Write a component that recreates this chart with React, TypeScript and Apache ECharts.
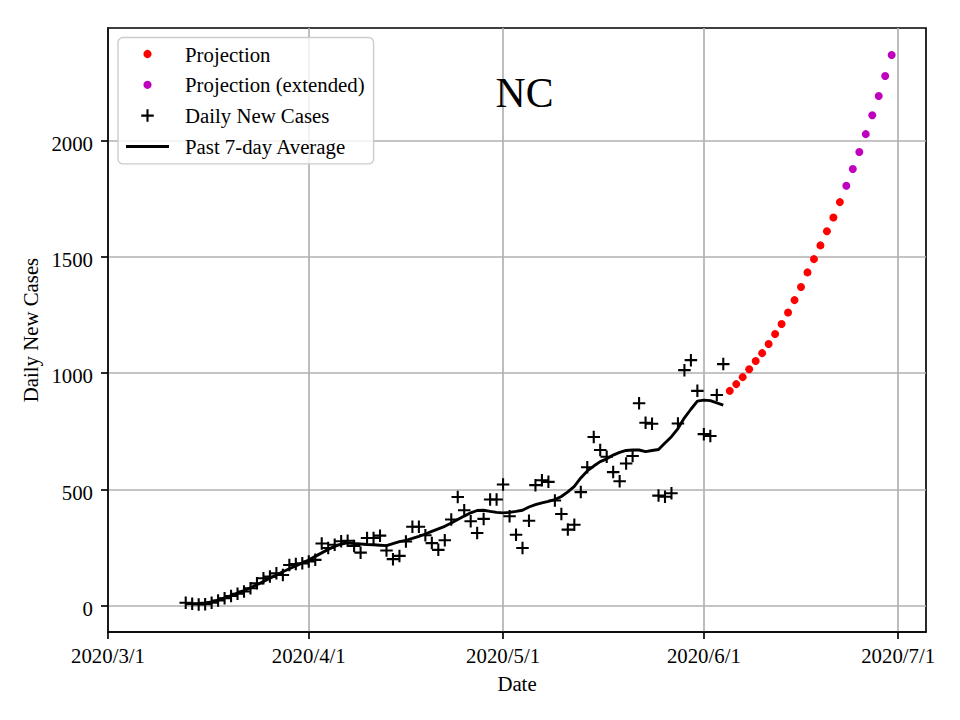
import React, { useEffect, useRef } from "react";
import * as echarts from "echarts";

// ---- axis ticks ----
const axisOrigin = "2020-03-01";
const xTickDates = ["2020-03-01", "2020-04-01", "2020-05-01", "2020-06-01", "2020-07-01"];
const xTickLabels = ["2020/3/1", "2020/4/1", "2020/5/1", "2020/6/1", "2020/7/1"];
const yTicks = [0, 500, 1000, 1500, 2000];

// ---- observed daily new cases (from 2020-03-13) ----
const casesStart = "2020-03-13";
const dailyCases = [
  14, 9, 6, 7, 14, 23, 33, 43, 52, 62,
  76, 97, 119, 126, 140, 133, 176, 180, 183, 191,
  198, 268, 249, 263, 278, 280, 258, 229, 292, 292,
  302, 238, 201, 215, 277, 340, 340, 304, 270, 241,
  282, 371, 468, 411, 364, 313, 374, 457, 457, 522,
  385, 306, 249, 366, 519, 540, 533, 453, 395, 328,
  349, 489, 596, 726, 670, 641, 575, 536, 612, 644,
  871, 787, 783, 474, 469, 484, 784, 1013, 1056, 924,
  738, 730, 906, 1039,
];

// ---- past 7-day average (from 2020-03-13) ----
const avgStart = "2020-03-13";
const avg7 = [
  9, 10, 11, 13, 17, 25, 35, 44, 55, 66,
  78, 91, 105, 119, 133, 147, 160, 172, 185, 197,
  213, 228, 243, 256, 266, 271, 268, 266, 264, 263,
  261, 259, 268, 276, 282, 290, 299, 309, 320, 331,
  342, 356, 371, 386, 400, 410, 411, 406, 402, 400,
  402, 406, 411, 425, 435, 443, 449, 457, 470, 490,
  514, 550, 580, 601, 620, 632, 648, 660, 668, 670,
  670, 663, 668, 672, 700, 727, 762, 808, 845, 880,
  884, 882, 872, 863,
];

// ---- projections ----
const projStart = "2020-06-05";
const projection = [
  924, 953, 983, 1017, 1052, 1086, 1125, 1168, 1211, 1261,
  1314, 1370, 1433, 1490, 1549, 1610, 1669, 1735,
];
const extStart = "2020-06-23";
const projectionExt = [1805, 1877, 1950, 2027, 2108, 2191, 2277, 2367];

const FONT = "Liberation Serif";

function dayIndex(s: string): number {
  const [y, m, d] = s.split("-").map(Number);
  const [y0, m0, d0] = axisOrigin.split("-").map(Number);
  return Math.round((Date.UTC(y, m - 1, d) - Date.UTC(y0, m0 - 1, d0)) / 86400000);
}

function toPairs(start: string, values: number[]): number[][] {
  const s = dayIndex(start);
  return values.map((v, i) => [s + i, v]);
}

const plusPath = "path://M5,0h2v5h5v2h-5v5h-2v-5h-5v-2h5z";
const lineIcon = "path://M0,0h43v3h-43z";

export default function App() {
  const ref = useRef<HTMLDivElement>(null);

  useEffect(() => {
    if (!ref.current) return;
    const chart = echarts.init(ref.current, undefined, { renderer: "svg" });
    const xTicks = xTickDates.map(dayIndex);
    const spine = { color: "#000000", width: 1.67 };
    const gridLine = { color: "#b0b0b0", width: 1.67 };

    chart.setOption({
      animation: false,
      backgroundColor: "#ffffff",
      grid: {
        left: 108,
        top: 28,
        width: 818,
        height: 604,
        containLabel: false,
        show: true,
        borderColor: "#000000",
        borderWidth: 1.67,
        backgroundColor: "transparent",
      },
      graphic: [
        {
          type: "text",
          x: 524.5,
          y: 92.5,
          z: 50,
          style: {
            text: "NC",
            font: `41.7px "${FONT}"`,
            fill: "#000000",
            textAlign: "center",
            textVerticalAlign: "middle",
          },
        },
      ],
      legend: {
        orient: "vertical",
        left: 118,
        top: 37.5,
        itemWidth: 43,
        itemHeight: 12.5,
        itemGap: 9.8,
        padding: [6, 9, 7, 8],
        backgroundColor: "rgba(255,255,255,0.8)",
        borderColor: "#cccccc",
        borderWidth: 1.4,
        borderRadius: 5,
        selectedMode: false,
        textStyle: {
          fontFamily: FONT,
          fontSize: 20.8,
          color: "#000000",
          padding: [0, 0, 0, 11],
        },
        data: [
          { name: "Projection", icon: "circle", itemStyle: { opacity: 1, borderColor: "#ffffff", borderWidth: 4.3 } },
          { name: "Projection (extended)", icon: "circle", itemStyle: { opacity: 1, borderColor: "#ffffff", borderWidth: 4.3 } },
          { name: "Daily New Cases", icon: plusPath, itemStyle: { opacity: 1 } },
          { name: "Past 7-day Average", icon: lineIcon, itemStyle: { opacity: 1, color: "#000000" } },
        ],
      },
      xAxis: {
        type: "value",
        min: 0,
        max: 126.3,
        name: "Date",
        nameLocation: "middle",
        nameGap: 41,
        nameTextStyle: { fontFamily: FONT, fontSize: 20.8, color: "#000000" },
        axisLine: { show: true, onZero: false, lineStyle: spine },
        axisTick: { show: true, inside: false, length: 7, customValues: xTicks, lineStyle: spine },
        axisLabel: {
          customValues: xTicks,
          margin: 13,
          fontFamily: FONT,
          fontSize: 20.8,
          color: "#000000",
          formatter: (v: number) => {
            const i = xTicks.indexOf(Math.round(v));
            return i >= 0 ? xTickLabels[i] : "";
          },
        },
        splitLine: { show: true, lineStyle: gridLine },
      },
      yAxis: {
        type: "value",
        min: -112,
        max: 2483,
        name: "Daily New Cases",
        nameLocation: "middle",
        nameGap: 62,
        nameTextStyle: { fontFamily: FONT, fontSize: 20.8, color: "#000000" },
        axisLine: { show: true, onZero: false, lineStyle: spine },
        axisTick: { show: true, inside: false, length: 7, customValues: yTicks, lineStyle: spine },
        axisLabel: {
          customValues: yTicks,
          margin: 15,
          fontFamily: FONT,
          fontSize: 20.8,
          color: "#000000",
          verticalAlign: "top",
          lineHeight: 5.4,
          formatter: (v: number) => String(v),
        },
        splitLine: { show: true, lineStyle: gridLine },
      },
      series: [
        {
          name: "Projection",
          type: "scatter",
          symbol: "circle",
          symbolSize: 8,
          itemStyle: { color: "#ff0000", opacity: 1 },
          data: toPairs(projStart, projection),
          z: 3,
        },
        {
          name: "Projection (extended)",
          type: "scatter",
          symbol: "circle",
          symbolSize: 8,
          itemStyle: { color: "#bf00bf", opacity: 1 },
          data: toPairs(extStart, projectionExt),
          z: 3,
        },
        {
          name: "Daily New Cases",
          type: "scatter",
          symbol: plusPath,
          symbolSize: 12.5,
          itemStyle: { color: "#000000", opacity: 1 },
          data: toPairs(casesStart, dailyCases),
          z: 3,
        },
        {
          name: "Past 7-day Average",
          type: "line",
          symbol: "none",
          showSymbol: false,
          lineStyle: { color: "#000000", width: 2.9 },
          itemStyle: { color: "#000000" },
          data: toPairs(avgStart, avg7),
          z: 4,
        },
      ],
    });

    return () => {
      chart.dispose();
    };
  }, []);

  return (
    <div
      ref={ref}
      style={{ position: "absolute", left: 0, top: 0, width: 960, height: 720, background: "#fff" }}
    />
  );
}
